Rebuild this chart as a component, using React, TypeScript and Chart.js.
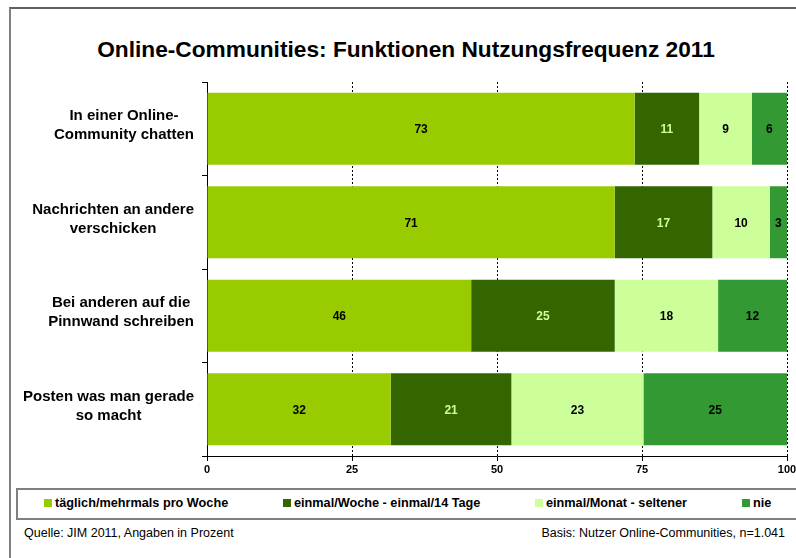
import React, { useEffect, useRef } from "react";
import { Chart, registerables } from "chart.js";

Chart.register(...registerables);

const title = "Online-Communities: Funktionen Nutzungsfrequenz 2011";
const categories: string[][] = [
  ["In einer Online-", "Community chatten"],
  ["Nachrichten an andere", "verschicken"],
  ["Bei anderen auf die", "Pinnwand schreiben"],
  ["Posten was man gerade", "so macht"],
];
const seriesNames = [
  "täglich/mehrmals pro Woche",
  "einmal/Woche - einmal/14 Tage",
  "einmal/Monat - seltener",
  "nie",
];
const taeglich = [73, 71, 46, 32];
const woechentlich = [11, 17, 25, 21];
const monatlich = [9, 10, 18, 23];
const nie = [6, 3, 12, 25];
const seriesColors = ["#99cc00", "#336600", "#ccff99", "#339933"];
const labelColors = ["#000000", "#ccff99", "#000000", "#000000"];
const xMin = 0;
const xMax = 100;
const xStep = 25;
const sourceText = "Quelle: JIM 2011, Angaben in Prozent";
const basisText = "Basis: Nutzer Online-Communities, n=1.041";

const series = [taeglich, woechentlich, monatlich, nie];
const FONT = "'Liberation Sans', Arial, Helvetica, sans-serif";

const totals = categories.map((_, i) => series.reduce((s, arr) => s + arr[i], 0));

const valueLabels = {
  id: "valueLabels",
  afterDatasetsDraw(chart: any) {
    const ctx = chart.ctx;
    ctx.save();
    ctx.font = `bold 12px ${FONT}`;
    ctx.textAlign = "center";
    ctx.textBaseline = "middle";
    chart.data.datasets.forEach((_: any, di: number) => {
      const meta = chart.getDatasetMeta(di);
      meta.data.forEach((el: any, i: number) => {
        const { x, base, y } = el.getProps(["x", "base", "y"], true);
        ctx.fillStyle = labelColors[di];
        ctx.fillText(String(series[di][i]), (x + base) / 2, y + 1);
      });
    });
    ctx.restore();
  },
};

const yLabels = {
  id: "yLabels",
  afterDraw(chart: any) {
    const scale = chart.scales.y;
    const ctx = chart.ctx;
    ctx.save();
    ctx.font = `bold 15px ${FONT}`;
    ctx.fillStyle = "#000";
    ctx.textAlign = "center";
    ctx.textBaseline = "middle";
    const lh = 19;
    categories.forEach((lines, i) => {
      const cy = scale.getPixelForValue(i) - 3;
      const w = Math.max(...lines.map((l) => ctx.measureText(l).width));
      const cx = chart.chartArea.left - 13 - w / 2;
      lines.forEach((l, j) => {
        ctx.fillText(l, cx, cy + (j - (lines.length - 1) / 2) * lh);
      });
    });
    ctx.restore();
  },
};

export default function App() {
  const ref = useRef<HTMLCanvasElement>(null);

  useEffect(() => {
    if (!ref.current) return;
    const chart = new Chart(ref.current, {
      type: "bar",
      data: {
        labels: categories.map((c) => c.join(" ")),
        datasets: series.map((arr, di) => ({
          label: seriesNames[di],
          data: arr.map((v, i) => (v / totals[i]) * 100),
          backgroundColor: seriesColors[di],
          borderWidth: 0,
          barPercentage: 0.77,
          categoryPercentage: 1,
        })),
      },
      options: {
        indexAxis: "y",
        responsive: false,
        animation: false,
        layout: { padding: { top: 82, left: 0, right: 43, bottom: 0 } },
        plugins: {
          legend: { display: false },
          tooltip: { enabled: false },
          title: { display: false },
        },
        scales: {
          x: {
            stacked: true,
            min: xMin,
            max: xMax,
            ticks: {
              stepSize: xStep,
              color: "#000",
              font: { family: FONT, size: 11, weight: "bold" },
              padding: 2,
              maxRotation: 0,
              autoSkip: false,
            },
            grid: {
              color: "#000",
              lineWidth: 1,
              tickLength: 5,
              tickColor: "#000",
              tickBorderDash: [],
              drawTicks: true,
            },
            border: { display: true, color: "#000", width: 1, dash: [2, 2] },
            afterFit: (s: any) => {
              s.height = 24;
            },
          },
          y: {
            stacked: true,
            ticks: { display: false },
            grid: {
              drawOnChartArea: false,
              tickLength: 5,
              tickColor: "#000",
              offset: true,
            },
            border: { display: true, color: "#000", width: 1 },
            afterFit: (s: any) => {
              s.width = 207;
            },
          },
        },
      } as any,
      plugins: [valueLabels, yLabels],
    });
    return () => chart.destroy();
  }, []);

  const legendLefts = [44, 283, 535, 742];

  return (
    <div
      style={{
        position: "absolute",
        left: 0,
        top: 0,
        width: 796,
        height: 558,
        overflow: "hidden",
        background: "#fff",
        fontFamily: FONT,
      }}
    >
      <div
        style={{
          position: "absolute",
          left: 9,
          top: 7,
          width: 900,
          height: 600,
          borderLeft: "2px solid #808080",
          borderTop: "2px solid #606060",
        }}
      />
      <div
        style={{
          position: "absolute",
          left: 0,
          top: 36,
          width: 812,
          textAlign: "center",
          fontSize: 22.7,
          fontWeight: "bold",
          lineHeight: "26px",
          color: "#000",
          whiteSpace: "nowrap",
        }}
      >
        {title}
      </div>
      <canvas
        ref={ref}
        width={830}
        height={480}
        style={{ position: "absolute", left: 0, top: 0, width: 830, height: 480 }}
      />
      <div
        style={{
          position: "absolute",
          left: 16,
          top: 488,
          width: 900,
          height: 28,
          border: "2px solid #808080",
        }}
      />
      {seriesNames.map((name, i) => (
        <div
          key={name}
          style={{
            position: "absolute",
            left: legendLefts[i],
            top: 495,
            height: 16,
            display: "flex",
            alignItems: "center",
            whiteSpace: "nowrap",
            fontSize: 12.7,
            fontWeight: "bold",
            color: "#000",
          }}
        >
          <span
            style={{
              display: "inline-block",
              width: 8,
              height: 8,
              background: seriesColors[i],
              marginRight: 3,
            }}
          />
          <span>{name}</span>
        </div>
      ))}
      <div
        style={{
          position: "absolute",
          left: 24,
          top: 525,
          fontSize: 12.5,
          lineHeight: "16px",
          color: "#000",
          whiteSpace: "nowrap",
        }}
      >
        {sourceText}
      </div>
      <div
        style={{
          position: "absolute",
          right: 11,
          top: 525,
          fontSize: 12.5,
          lineHeight: "16px",
          color: "#000",
          whiteSpace: "nowrap",
        }}
      >
        {basisText}
      </div>
    </div>
  );
}
